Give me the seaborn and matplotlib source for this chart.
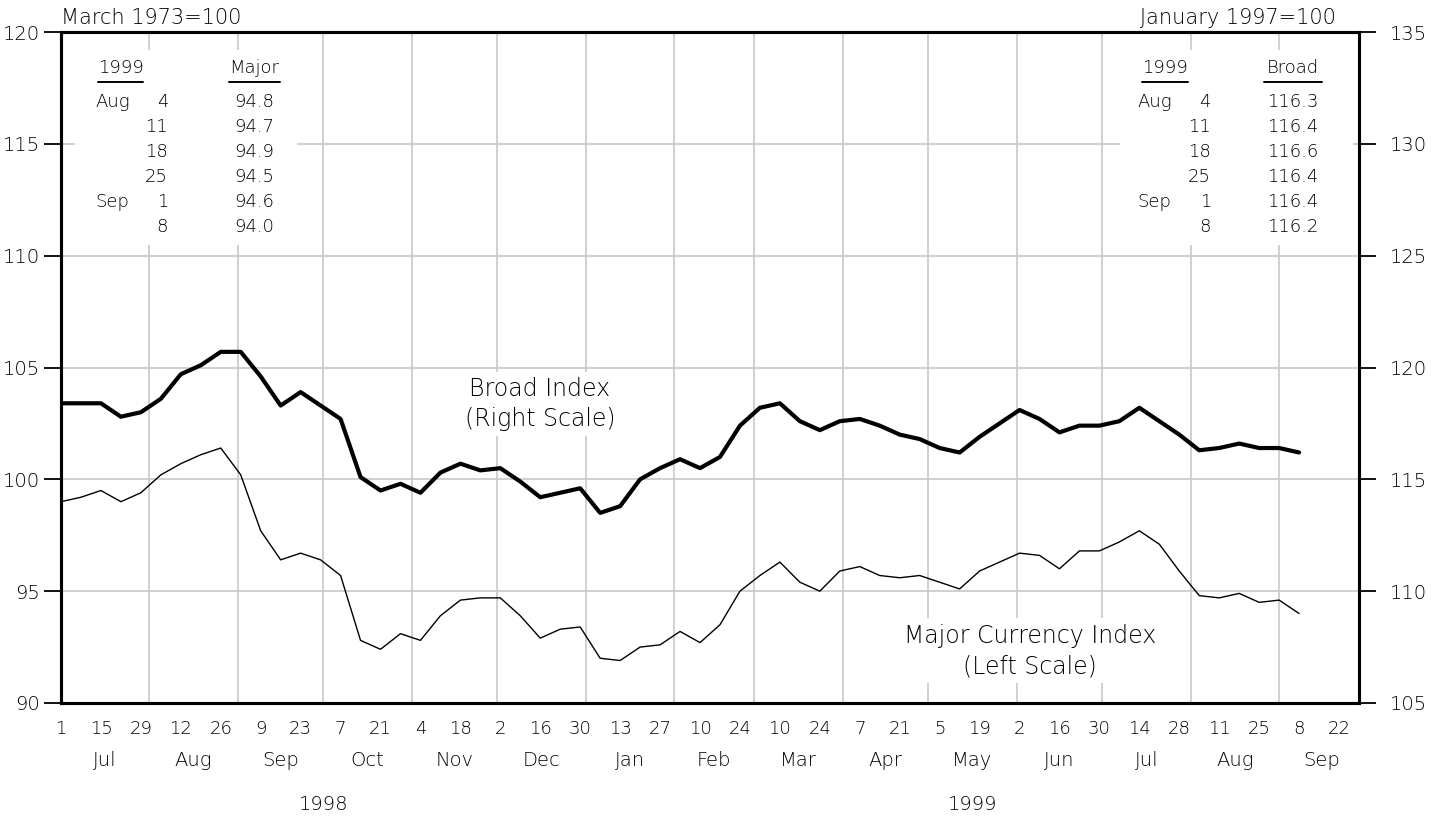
import matplotlib
matplotlib.use("Agg")
import matplotlib.pyplot as plt
import matplotlib.dates as mdates
from matplotlib.patches import Rectangle
from matplotlib.ticker import FixedLocator, FuncFormatter, NullFormatter
import seaborn as sns
import pandas as pd

sns.set_style("white")
plt.rcParams['font.family'] = ['DejaVu Sans']
plt.rcParams['font.weight'] = 'light'
plt.rcParams['text.color'] = 'black'
plt.rcParams['xtick.color'] = 'black'
plt.rcParams['ytick.color'] = 'black'
plt.rcParams['axes.labelcolor'] = 'black'

# weekly values, Wednesdays, Jul 1 1998 .. Sep 8 1999
week_start = "1998-07-01"
major = [99.0, 99.2, 99.5, 99.0, 99.4, 100.2, 100.7, 101.1, 101.4, 100.2,
         97.7, 96.4, 96.7, 96.4, 95.7, 92.8, 92.4, 93.1, 92.8, 93.9,
         94.6, 94.7, 94.7, 93.9, 92.9, 93.3, 93.4, 92.0, 91.9, 92.5,
         92.6, 93.2, 92.7, 93.5, 95.0, 95.7, 96.3, 95.4, 95.0, 95.9,
         96.1, 95.7, 95.6, 95.7, 95.4, 95.1, 95.9, 96.3, 96.7, 96.6,
         96.0, 96.8, 96.8, 97.2, 97.7, 97.1, 95.9, 94.8, 94.7, 94.9,
         94.5, 94.6, 94.0]
broad = [118.4, 118.4, 118.4, 117.8, 118.0, 118.6, 119.7, 120.1, 120.7, 120.7,
         119.6, 118.3, 118.9, 118.3, 117.7, 115.1, 114.5, 114.8, 114.4, 115.3,
         115.7, 115.4, 115.5, 114.9, 114.2, 114.4, 114.6, 113.5, 113.8, 115.0,
         115.5, 115.9, 115.5, 116.0, 117.4, 118.2, 118.4, 117.6, 117.2, 117.6,
         117.7, 117.4, 117.0, 116.8, 116.4, 116.2, 116.9, 117.5, 118.1, 117.7,
         117.1, 117.4, 117.4, 117.6, 118.2, 117.6, 117.0, 116.3, 116.4, 116.6,
         116.4, 116.4, 116.2]

table_days = ["4", "11", "18", "25", "1", "8"]
table_months = ["Aug", "", "", "", "Sep", ""]
table_major = ["94.8", "94.7", "94.9", "94.5", "94.6", "94.0"]
table_broad = ["116.3", "116.4", "116.6", "116.4", "116.4", "116.2"]

dates = pd.date_range(week_start, periods=len(major), freq="7D")
df = pd.DataFrame({"date": dates, "major": major, "broad": broad})

x_start = pd.Timestamp("1998-07-01")
x_end = pd.Timestamp("1999-09-29")

W, H = 1439, 817
fig = plt.figure(figsize=(W / 100, H / 100), dpi=100)
ax = fig.add_axes([61 / W, 1 - 703 / H, 1298 / W, 671 / H])
ax2 = ax.twinx()

def ax_xy(px, py):
    # pixel position in the image -> axes fraction
    return (px - 61) / 1298, (703 - py) / 671

sns.lineplot(data=df, x="date", y="major", ax=ax, color="black", lw=1.0, zorder=3)
sns.lineplot(data=df, x="date", y="broad", ax=ax2, color="black", lw=3.0, zorder=3)

ax.set_xlim(x_start, x_end)
ax.set_ylim(90, 120)
ax2.set_ylim(105, 135)
ax.set_yticks(range(90, 121, 5))
ax2.set_yticks(range(105, 136, 5))
ax.set_xlabel("")
ax.set_ylabel("")
ax2.set_ylabel("")

# grid
ax.set_axisbelow(True)
ax.yaxis.grid(True, color="#c8c8c8", lw=1.2)
month_starts = pd.date_range("1998-08-01", "1999-09-01", freq="MS")
for m in month_starts:
    ax.axvline(m, color="#c8c8c8", lw=1.2, zorder=0.5)

# x ticks: weekly, labelled every other week
weeks = pd.date_range(x_start, x_end, freq="7D")
labelled = weeks[::2]
ax.xaxis.set_major_locator(FixedLocator(mdates.date2num(labelled)))
ax.xaxis.set_minor_locator(FixedLocator(mdates.date2num(weeks)))
ax.xaxis.set_major_formatter(FuncFormatter(lambda v, p: str(mdates.num2date(v).day)))
ax.xaxis.set_minor_formatter(NullFormatter())
ax.tick_params(axis="x", which="both", direction="out", length=9, width=1.3,
               labelsize=13, pad=3, color="black")
ax.tick_params(axis="y", direction="out", length=12, width=1.3, labelsize=14, pad=3)
ax2.tick_params(axis="y", direction="out", length=12, width=1.3, labelsize=14, pad=10)

for a in (ax, ax2):
    for s in a.spines.values():
        s.set_linewidth(2.2)
        s.set_color("black")

# month and year labels
all_months = pd.date_range("1998-07-01", "1999-10-01", freq="MS")
for m0, m1 in zip(all_months[:-1], all_months[1:]):
    mid = m0 + (m1 - m0) / 2
    ax.text(mid, -0.0864, m0.strftime("%b"), transform=ax.get_xaxis_transform(),
            ha="center", va="center", fontsize=14)
for yr, a, b in [("1998", "1998-07-01", "1999-01-01"), ("1999", "1999-01-01", "1999-09-29")]:
    mid = pd.Timestamp(a) + (pd.Timestamp(b) - pd.Timestamp(a)) / 2
    ax.text(mid, -0.152, yr, transform=ax.get_xaxis_transform(),
            ha="center", va="center", fontsize=14)

# scale notes above the frame
ax.text(0, ax_xy(0, 18)[1], "March 1973=100", transform=ax.transAxes,
        ha="left", va="center", fontsize=15)
ax.text(ax_xy(1336, 0)[0], ax_xy(0, 18)[1], "January 1997=100", transform=ax.transAxes,
        ha="right", va="center", fontsize=15)

# white boxes behind the tables and series labels
for x0, y0, x1, y1 in [(75, 245, 297, 50), (1120, 245, 1353, 50),
                       (452, 436, 628, 372), (890, 683, 1172, 618)]:
    ax0, ay0 = ax_xy(x0, y0)
    ax1, ay1 = ax_xy(x1, y1)
    ax.add_patch(Rectangle((ax0, ay0), ax1 - ax0, ay1 - ay0, transform=ax.transAxes,
                           facecolor="white", edgecolor="none", zorder=1))

# tables
row_y = [102, 127, 152, 177, 202, 227]
def table(x_month, x_day, x_val, x_year, year_ul, val_ul, head, vals):
    ax.text(*ax_xy(x_year, 68), "1999", transform=ax.transAxes, ha="left",
            va="center", fontsize=13, zorder=4)
    ax.text(*ax_xy(x_val, 68), head, transform=ax.transAxes, ha="center",
            va="center", fontsize=13, zorder=4)
    for (u0, u1) in (year_ul, val_ul):
        p0 = ax_xy(u0, 82)
        p1 = ax_xy(u1, 82)
        ax.plot([p0[0], p1[0]], [p0[1], p1[1]], transform=ax.transAxes,
                color="black", lw=1.4, zorder=4)
    for yy, mo, d, v in zip(row_y, table_months, table_days, vals):
        ty = ax_xy(0, yy)[1]
        ax.text(ax_xy(x_month, 0)[0], ty, mo, transform=ax.transAxes, ha="left",
                va="center", fontsize=13, zorder=4)
        ax.text(ax_xy(x_day, 0)[0], ty, d, transform=ax.transAxes, ha="right",
                va="center", fontsize=13, zorder=4)
        ax.text(ax_xy(x_val, 0)[0], ty, v, transform=ax.transAxes, ha="center",
                va="center", fontsize=13, zorder=4)

table(95, 168, 254, 98, (98, 143), (229, 280), "Major", table_major)
table(1137, 1211, 1293, 1142, (1142, 1188), (1264, 1322), "Broad", table_broad)

# series labels
ax.text(*ax_xy(540, 404), "Broad Index\n(Right Scale)", transform=ax.transAxes,
        ha="center", va="center", fontsize=17, linespacing=1.35, zorder=4)
ax.text(*ax_xy(1030, 651), "Major Currency Index\n(Left Scale)", transform=ax.transAxes,
        ha="center", va="center", fontsize=17, linespacing=1.35, zorder=4)

fig.savefig("out.png", dpi=100, facecolor="white")
